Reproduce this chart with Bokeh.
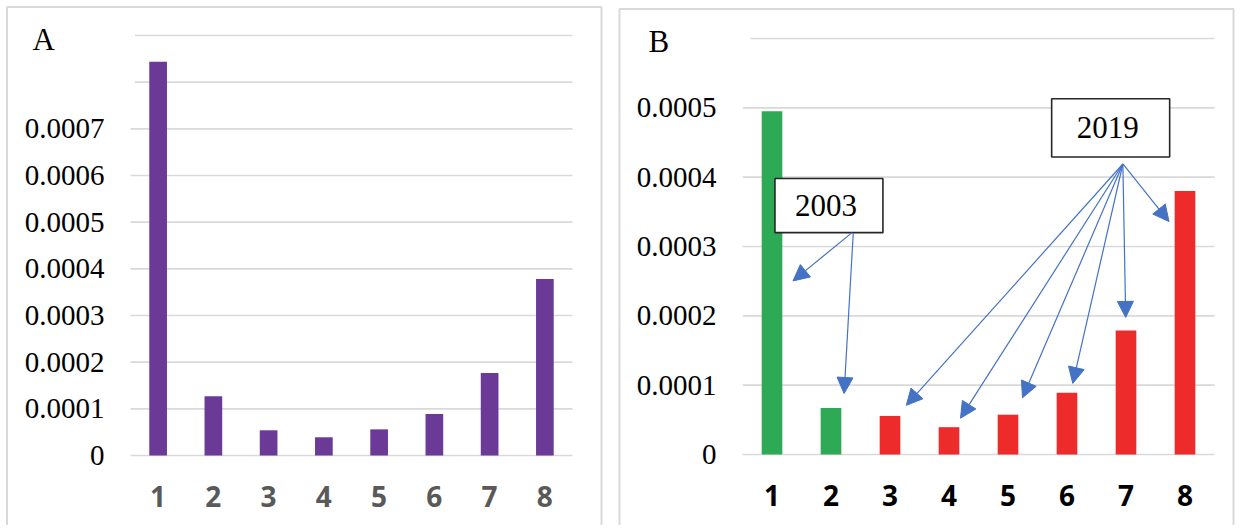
from bokeh.plotting import figure
from bokeh.layouts import row
from bokeh.models import (Range1d, FixedTicker, BoxAnnotation, Label, Arrow, NormalHead,
                          ColumnDataSource, LinearAxis)
from bokeh.embed import file_html
from bokeh.resources import INLINE

# ---------------- data ----------------
categories = ["1", "2", "3", "4", "5", "6", "7", "8"]
values_a = [0.000844, 0.000127, 0.000054, 0.000039, 0.000056, 0.000089, 0.000177, 0.000378]
values_b = [0.000495, 0.0000672, 0.0000556, 0.0000394, 0.0000574, 0.0000892, 0.000179, 0.000380]
groups_b = ["2003", "2003", "2019", "2019", "2019", "2019", "2019", "2019"]
yticks_a = [0, 0.0001, 0.0002, 0.0003, 0.0004, 0.0005, 0.0006, 0.0007, 0.0008, 0.0009]
ylabels_a = ["0", "0.0001", "0.0002", "0.0003", "0.0004", "0.0005", "0.0006", "0.0007", "", ""]
yticks_b = [0, 0.0001, 0.0002, 0.0003, 0.0004, 0.0005, 0.0006]
ylabels_b = ["0", "0.0001", "0.0002", "0.0003", "0.0004", "0.0005", ""]

PURPLE = "#6B3A96"
GROUP_COLORS = {"2003": "#2EAA56", "2019": "#EE2B2B"}
BLUE = "#4472C4"
GRID = "#D9D9D9"
SERIF = "Liberation Serif"
SANS = "Open Sans"

xpos = list(range(1, len(categories) + 1))
N = len(categories)
H = 525


class Geo:
    """Maps canvas pixels to data units; the frame fills the whole canvas."""
    def __init__(self, width, fl, fr, ft, fb, ymax):
        self.w, self.fl, self.fr, self.ft, self.fb, self.ymax = width, fl, fr, ft, fb, ymax
        self.sx = (fr - fl) / N
        self.sy = (fb - ft) / ymax

    def x(self, px):
        return 0.5 + (px - self.fl) / self.sx

    def y(self, py):
        return (self.fb - py) / self.sy


def make_fig(g, yticks, ylabels, xlabel_color, inset_px):
    p = figure(width=g.w, height=H, output_backend="svg", toolbar_location=None,
               x_range=Range1d(g.x(0), g.x(g.w)), y_range=Range1d(g.y(H), g.y(0)),
               x_axis_location=None, y_axis_location=None,
               min_border=0)
    p.outline_line_color = None
    p.background_fill_color = "white"
    p.border_fill_color = "white"
    p.grid.visible = False
    # horizontal gridlines spanning the category area (unlabelled ones start slightly inside)
    x0 = [0.5 if lab else 0.5 + inset_px / g.sx for lab in ylabels]
    p.segment(x0=x0, x1=[N + 0.5] * len(yticks), y0=yticks, y1=yticks,
              line_color=GRID, line_width=1.6)

    ya = LinearAxis(fixed_location=0.5, ticker=FixedTicker(ticks=yticks))
    ya.major_label_overrides = {t: l for t, l in zip(yticks, ylabels)}
    ya.axis_line_color = None
    ya.major_tick_line_color = None
    ya.minor_tick_line_color = None
    ya.major_tick_out = 0
    ya.major_tick_in = 0
    ya.major_label_standoff = 26
    ya.major_label_text_font = SERIF
    ya.major_label_text_font_size = "29px"
    ya.major_label_text_color = "black"
    p.add_layout(ya, "left")

    xa = LinearAxis(fixed_location=0, ticker=FixedTicker(ticks=xpos))
    xa.major_label_overrides = {x: c for x, c in zip(xpos, categories)}
    xa.axis_line_color = None
    xa.major_tick_line_color = None
    xa.minor_tick_line_color = None
    xa.major_tick_out = 0
    xa.major_tick_in = 0
    xa.major_label_standoff = 30
    xa.major_label_text_font = SANS
    xa.major_label_text_font_style = "bold"
    xa.major_label_text_font_size = "28px"
    xa.major_label_text_color = xlabel_color
    p.add_layout(xa, "below")
    return p


def panel_border(g, left, right, top):
    return BoxAnnotation(left=g.x(left), right=g.x(right), top=g.y(top), bottom=g.y(H + 50),
                         fill_alpha=0, line_color=GRID, line_alpha=1, line_width=2,
                         level="underlay")


def panel_letter(g, x, y, txt):
    return Label(x=g.x(x), y=g.y(y), text=txt, text_font=SERIF, text_font_size="31px",
                 text_color="black", text_baseline="middle")


# ---------------- panel A ----------------
gA = Geo(604, 130, 572, 35, 455, 0.0009)
pA = make_fig(gA, yticks_a, ylabels_a, "#595959", 4.5)
srcA = ColumnDataSource(dict(x=xpos, top=values_a))
pA.vbar(x="x", top="top", width=0.32, bottom=0, source=srcA, fill_color=PURPLE, line_color=None)
pA.add_layout(panel_border(gA, 6.5, 601, 6.5))
pA.add_layout(panel_letter(gA, 32, 39, "A"))

# ---------------- panel B ----------------
gB = Geo(632, 138, 610, 38, 454, 0.0006)
pB = make_fig(gB, yticks_b, ylabels_b, "black", 8)
srcB = ColumnDataSource(dict(x=xpos, top=values_b,
                             color=[GROUP_COLORS[g] for g in groups_b]))
pB.vbar(x="x", top="top", width=0.35, bottom=0, source=srcB, fill_color="color", line_color=None)
pB.add_layout(panel_border(gB, 15, 629, 8.5))
pB.add_layout(panel_letter(gB, 44, 41, "B"))

# annotation boxes (data units)
box_2003 = dict(left=1.05, right=2.88, top=0.000398, bottom=0.000320)
box_2019 = dict(left=5.74, right=7.74, top=0.000513, bottom=0.000429)
for b, txt in ((box_2003, "2003"), (box_2019, "2019")):
    pB.add_layout(BoxAnnotation(fill_color="white", fill_alpha=1, line_color="#262626",
                                line_alpha=1, line_width=1.6, level="annotation", **b))
    pB.add_layout(Label(x=(b["left"] + b["right"]) / 2 - 0.05, y=(b["top"] + b["bottom"]) / 2,
                        text=txt, text_font=SERIF, text_font_size="31px", text_color="black",
                        text_align="center", text_baseline="middle"))

arrows = ColumnDataSource(dict(
    x0=[2.356, 2.377, 6.947, 6.947, 6.947, 6.947, 6.947, 6.947],
    y0=[0.000320, 0.000319, 0.000419, 0.000419, 0.000419, 0.000419, 0.000419, 0.000419],
    x1=[1.356, 2.222, 3.276, 4.195, 5.246, 6.098, 6.995, 7.729],
    y1=[0.0002504, 0.0000880, 0.0000709, 0.0000524, 0.0000817, 0.0001025, 0.0001977, 0.000336],
))
pB.add_layout(Arrow(source=arrows, x_start="x0", y_start="y0", x_end="x1", y_end="y1",
                    line_color=BLUE, line_width=1.2,
                    end=NormalHead(size=16, fill_color=BLUE, line_color=BLUE, line_width=1)))

layout = row(pA, pB)
open("out.html", "w").write(file_html(layout, INLINE))
